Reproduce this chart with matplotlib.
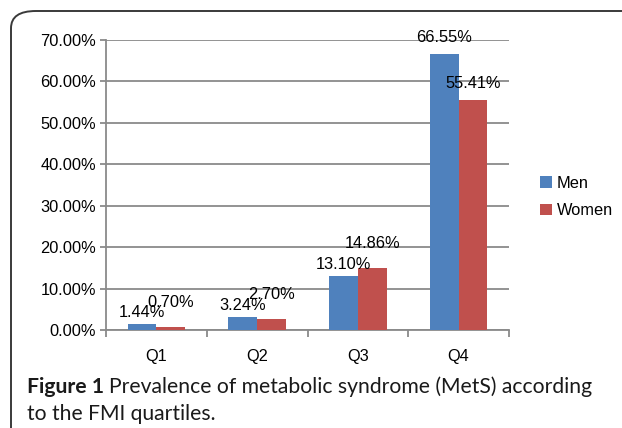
import matplotlib
matplotlib.use('Agg')
import matplotlib.pyplot as plt
import matplotlib.patches as mpatches
from matplotlib.ticker import FuncFormatter

# Data
quartiles = ['Q1', 'Q2', 'Q3', 'Q4']
men = [1.44, 3.24, 13.10, 66.55]
women = [0.70, 2.70, 14.86, 55.41]
series_names = ['Men', 'Women']

# Styling
BLUE = '#4F81BD'
RED = '#C0504D'
GRID = '#8a8a8a'
BAR_W = 0.285
men_dy = [4, 4, 4, 9]        # label gap above bar (px)
women_dy = [17, 17, 17, 9]

plt.rcParams['font.family'] = ['Liberation Sans', 'DejaVu Sans']

fig = plt.figure(figsize=(6.22, 4.28), dpi=100)
W, H = 622, 428

# Rounded frame around the figure
frame = mpatches.FancyBboxPatch((11 / W, -0.2), 1.2, (H - 11) / H + 0.2,
                                boxstyle='round,pad=0,rounding_size=0.04',
                                transform=fig.transFigure, fill=False,
                                edgecolor='#3a3a3a', linewidth=1.4)
fig.patches.append(frame)

ax = fig.add_axes([106 / W, (H - 330) / H, (509 - 106) / W, (330 - 40) / H])
x = range(len(quartiles))
ax.bar([i - BAR_W / 2 for i in x], men, BAR_W, color=BLUE, label=series_names[0], zorder=3)
ax.bar([i + BAR_W / 2 for i in x], women, BAR_W, color=RED, label=series_names[1], zorder=3)

for i in x:
    ax.annotate('%.2f%%' % men[i], (i - BAR_W / 2, men[i]), xytext=(0, men_dy[i] * 0.72),
                textcoords='offset points', ha='center', va='bottom', fontsize=11.8, zorder=4)
    ax.annotate('%.2f%%' % women[i], (i + BAR_W / 2, women[i]), xytext=(0, women_dy[i] * 0.72),
                textcoords='offset points', ha='center', va='bottom', fontsize=11.8, zorder=4)

ax.set_xlim(-0.5, len(quartiles) - 0.5)
ax.set_ylim(0, 70)
ax.set_yticks(range(0, 71, 10))
ax.yaxis.set_major_formatter(FuncFormatter(lambda v, p: '%.2f%%' % v))
ax.set_xticks(list(x))
ax.set_xticklabels(quartiles)
ax.set_xticks([i - 0.5 for i in range(len(quartiles) + 1)], minor=True)
ax.tick_params(axis='x', which='major', length=0, pad=14, labelsize=11.8)
ax.tick_params(axis='x', which='minor', length=5, width=1.3, color=GRID)
ax.tick_params(axis='y', length=4, width=1.3, color=GRID, labelsize=11.8, pad=3)
ax.yaxis.grid(True, color=GRID, linewidth=1.3, zorder=0)
for s in ['top', 'right']:
    ax.spines[s].set_visible(False)
for s in ['left', 'bottom']:
    ax.spines[s].set_color(GRID)
    ax.spines[s].set_linewidth(1.3)

ax.legend(loc='center left', bbox_to_anchor=((532 - 106) / (509 - 106), (330 - 197) / (330 - 40)),
          frameon=False, fontsize=11.8, handlelength=0.7, handleheight=0.7,
          handletextpad=0.3, labelspacing=0.75, borderpad=0)

# Caption
cap_font = ['Lato', 'DejaVu Sans']
fig.canvas.draw()
r = fig.canvas.get_renderer()
t1 = fig.text(27 / W, 1 - 387 / H, 'Figure 1', fontsize=15.2, fontweight='bold',
              family=cap_font, va='center', color='#1a1a1a')
bb = t1.get_window_extent(r)
fig.text(bb.x1 / W + 5 / W, 1 - 387 / H, 'Prevalence of metabolic syndrome (MetS) according',
         fontsize=15.2, family=cap_font, va='center', color='#1a1a1a')
fig.text(27 / W, 1 - 414 / H, 'to the FMI quartiles.', fontsize=15.2,
         family=cap_font, va='center', color='#1a1a1a')

fig.savefig('out.png', dpi=100)
